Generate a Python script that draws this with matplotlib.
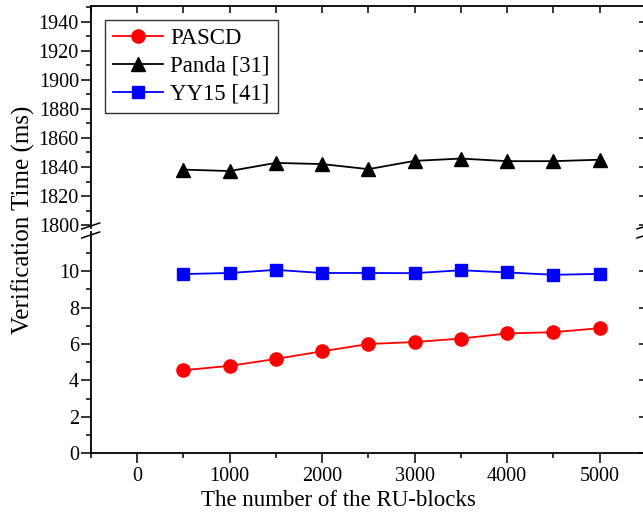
import matplotlib
matplotlib.use('Agg')
import matplotlib.pyplot as plt
from matplotlib.ticker import MultipleLocator, FixedLocator

plt.rcParams['font.family'] = ['Liberation Serif', 'DejaVu Serif']

# data
blocks = [500, 1000, 1500, 2000, 2500, 3000, 3500, 4000, 4500, 5000]
pascd = [4.56, 4.80, 5.18, 5.60, 6.00, 6.11, 6.30, 6.58, 6.65, 6.87]
panda = [1838.2, 1837.2, 1842.8, 1842.0, 1838.5, 1844.2, 1845.8, 1844.0, 1844.0, 1845.0]
yy15 = [9.84, 9.90, 10.07, 9.90, 9.90, 9.89, 10.05, 9.93, 9.80, 9.85]
labels = ['PASCD', 'Panda [31]', 'YY15 [41]']

W, H = 643, 517
fig = plt.figure(figsize=(W / 100, H / 100), dpi=100)

left = 90.7 / W
width = (646 - 90.7) / W
ax_top = fig.add_axes([left, 1 - 228 / H, width, (228 - 6) / H])
ax_bot = fig.add_axes([left, 1 - 453.3 / H, width, (453.3 - 232) / H])

ax_top.set_ylim(1798, 1950.8)
ax_top.yaxis.set_major_locator(MultipleLocator(20))
ax_top.yaxis.set_minor_locator(MultipleLocator(10))
ax_bot.set_ylim(0, 12.15)
ax_bot.yaxis.set_major_locator(FixedLocator([0, 2, 4, 6, 8, 10]))
ax_bot.yaxis.set_minor_locator(FixedLocator([1, 3, 5, 7, 9, 11]))

for ax in (ax_top, ax_bot):
    ax.set_xlim(-500, 5500)
    for s in ax.spines.values():
        s.set_linewidth(1.3)
    ax.xaxis.set_major_locator(MultipleLocator(1000))
    ax.xaxis.set_minor_locator(MultipleLocator(500))
    ax.tick_params(axis='y', which='major', direction='out', length=7, width=1.1,
                   labelsize=14.5, pad=1.5, right=False)
    ax.tick_params(axis='y', which='minor', direction='out', length=3.5, width=1.1,
                   right=False)
    # right axis: ticks pointing inward
    sec = ax.secondary_yaxis('right')
    sec.yaxis.set_major_locator(ax.yaxis.get_major_locator())
    sec.tick_params(direction='in', length=5, width=1.1, labelright=False)
    sec.spines['right'].set_linewidth(1.3)

ax_top.spines['bottom'].set_visible(False)
ax_top.tick_params(axis='x', which='both', bottom=False, labelbottom=False,
                   top=True, direction='in', length=5, width=1.1)

ax_bot.spines['top'].set_visible(False)
ax_bot.tick_params(axis='x', which='major', direction='out', length=7, width=1.1,
                   labelsize=14.5, pad=3, top=False)
ax_bot.tick_params(axis='x', which='minor', direction='out', length=3.5, width=1.1,
                   top=False)

l1, = ax_bot.plot(blocks, pascd, '-o', color='red', lw=1.3, ms=9.5, label=labels[0])
l2, = ax_top.plot(blocks, panda, '-^', color='black', lw=1.3, ms=10, label=labels[1])
l3, = ax_bot.plot(blocks, yy15, '-s', color='blue', lw=1.3, ms=8.5, label=labels[2])

leg = ax_top.legend([l1, l2, l3], labels, loc='upper left',
                    bbox_to_anchor=(14.3 / (646 - 90.7), 1 - 14 / 222),
                    fontsize=16.5, frameon=True, fancybox=False, edgecolor='black',
                    borderaxespad=0, handlelength=2.2, handletextpad=0.3,
                    labelspacing=0.3, borderpad=0.35)
leg.get_frame().set_linewidth(1.0)

# break marks on the left and right axes
for xp in (90.7, 646):
    for yp in (226, 235):
        fig.add_artist(plt.Line2D([(xp - 9) / W, (xp + 9) / W],
                                  [1 - (yp + 3) / H, 1 - (yp - 3) / H],
                                  color='black', lw=1.1))

fig.text(23 / W, 1 - 220 / H, 'Verification Time (ms)', rotation=90,
         ha='center', va='center', fontsize=18)
fig.text(338 / W, 1 - 500 / H, 'The number of the RU-blocks',
         ha='center', va='center', fontsize=16.5)

fig.savefig('out.png', dpi=100)
